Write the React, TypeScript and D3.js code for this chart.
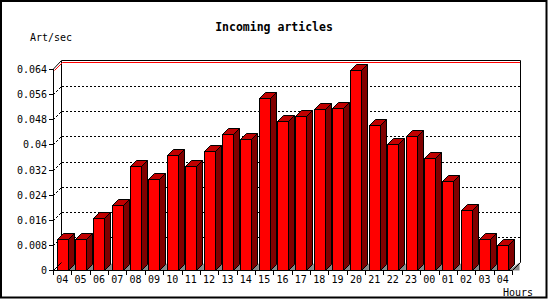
import React from "react";
import * as d3 from "d3";

const hours = ["04","05","06","07","08","09","10","11","12","13","14","15","16","17","18","19","20","21","22","23","00","01","02","03","04"];
const values = [0.0098,0.0098,0.0165,0.0206,0.0331,0.0289,0.0365,0.0331,0.038,0.0433,0.0416,0.0549,0.0474,0.049,0.0513,0.0515,0.0638,0.0461,0.0402,0.0426,0.0356,0.0282,0.0191,0.0098,0.0079];
const yTicks = [0,0.008,0.016,0.024,0.032,0.04,0.048,0.056,0.064];
const yTickLabels = ["0","0.008","0.016","0.024","0.032","0.04","0.048","0.056","0.064"];

const W = 550, H = 300;
const X0 = 53, X1 = 512;
const Y0 = 270, YTOP = 69;
const DEPTH = 8;
const BD = 6; // bar depth
const BW = 11;
const mono = "'DejaVu Sans Mono', monospace";

export default function App() {
  const x = d3.scaleBand<number>().domain(d3.range(hours.length)).range([X0, X1]);
  const y = d3.scaleLinear().domain([0, 0.064]).range([Y0, YTOP]);
  const bw = x.bandwidth();
  const backR = X1 + DEPTH + 0.5;

  return (
    <svg width={W} height={H} style={{ position: "absolute", left: 0, top: 0, background: "#fff" }}>
      <rect x={1} y={1} width={545.5} height={296.5} fill="#fff" stroke="#000" strokeWidth={2} />
      {/* grid lines */}
      {yTicks.slice(1, -1).map((t, i) => {
        const yf = Math.round(y(t)) + 0.5;
        return (
          <path key={"g" + i} d={`M${X0 + 0.5},${yf} L${X0 + DEPTH + 0.5},${yf - DEPTH} L${backR},${yf - DEPTH}`}
            fill="none" stroke="#000" strokeDasharray="2,2" shapeRendering="crispEdges" />
        );
      })}
      {/* back plane border */}
      <path d={`M${X0 + 0.5},${YTOP} L${X0 + DEPTH + 0.5},${YTOP - DEPTH - 0.5} L${backR},${YTOP - DEPTH - 0.5} L${backR},${Y0 - DEPTH + 0.5}`}
        fill="none" stroke="#000" />
      <path d={`M${X0 + DEPTH + 0.5},${YTOP - DEPTH - 0.5} L${X0 + DEPTH + 0.5},${Y0 - DEPTH + 0.5}`} fill="none" stroke="#000" shapeRendering="crispEdges" />
      {/* red max line */}
      <path d={`M${X0 + 1.5},${Math.round(y(0.064)) + 1.5} L${X0 + DEPTH + 1.5},${Math.round(y(0.064)) - DEPTH + 1.5} L${backR - 0.5},${Math.round(y(0.064)) - DEPTH + 1.5}`}
        fill="none" stroke="#f00" />
      {/* floor shadows */}
      {values.map((v, i) => {
        const bx = Math.round(x(i)! + bw / 2 - BW / 2) + 0.5;
        const xr = bx + BW;
        const ext = i === values.length - 1 ? DEPTH + 3 : bw - BW;
        return (
          <polygon key={"f" + i} points={`${xr},${Y0 + 0.5} ${xr + ext},${Y0 + 0.5 - Math.min(ext, DEPTH)} ${xr + ext},${Y0 + 0.5}`}
            fill="#888" stroke="none" />
        );
      })}
      {/* bars */}
      {values.map((v, i) => {
        const bx = Math.round(x(i)! + bw / 2 - BW / 2) + 0.5;
        const by = Math.round(y(v)) + 0.5;
        const yb = Y0 + 0.5;
        return (
          <g key={"b" + i} stroke="#000" strokeWidth={1} strokeLinejoin="miter">
            <polygon points={`${bx + BW},${by} ${bx + BW + BD},${by - BD} ${bx + BW + BD},${yb - BD} ${bx + BW},${yb}`} fill="#800000" />
            <polygon points={`${bx},${by} ${bx + BD},${by - BD} ${bx + BW + BD},${by - BD} ${bx + BW},${by}`} fill="#c00000" />
            <rect x={bx} y={by} width={BW} height={yb - by} fill="#f00" />
          </g>
        );
      })}
      {/* front axes */}
      <path d={`M${X0 + 0.5},${YTOP} L${X0 + 0.5},${Y0 + 0.5} L${X1 + 0.5},${Y0 + 0.5} L${X1 + DEPTH + 0.5},${Y0 - DEPTH + 0.5}`} fill="none" stroke="#000" />
      <path d={`M${X0 + 0.5},${Y0 + 0.5} L${X0 + DEPTH + 0.5},${Y0 - DEPTH + 0.5}`} fill="none" stroke="#000" />
      {yTicks.map((t, i) => {
        const yf = Math.round(y(t)) + 0.5;
        return (
          <g key={"yt" + i}>
            <line x1={49} x2={X0 + 0.5} y1={yf} y2={yf} stroke="#000" shapeRendering="crispEdges" />
            <text x={47} y={yf + 3.5} textAnchor="end" fontFamily={mono} fontSize={10} fill="#000">{yTickLabels[i]}</text>
          </g>
        );
      })}
      {d3.range(hours.length + 1).map((i) => {
        const xx = Math.round(X0 + i * bw) + 0.5;
        return <line key={"xt" + i} x1={xx} x2={xx} y1={Y0 + 0.5} y2={Y0 + 4.5} stroke="#000" shapeRendering="crispEdges" />;
      })}
      {hours.map((h, i) => (
        <text key={"xl" + i} x={x(i)! + bw / 2} y={283} textAnchor="middle" fontFamily={mono} fontSize={10} fill="#000">{h}</text>
      ))}
      <text x={274} y={30.5} textAnchor="middle" fontFamily={mono} fontWeight="bold" fontSize={11.5} fill="#000">Incoming articles</text>
      <text x={30} y={40.5} fontFamily={mono} fontSize={10} fill="#000">Art/sec</text>
      <text x={533} y={295.5} textAnchor="end" fontFamily={mono} fontSize={10} fill="#000">Hours</text>
    </svg>
  );
}
